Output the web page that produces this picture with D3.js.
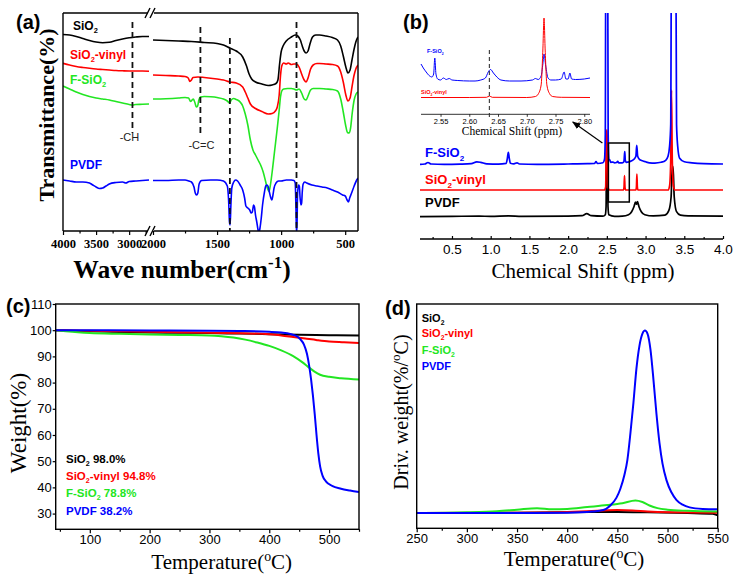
<!DOCTYPE html>
<html><head><meta charset="utf-8">
<script src="https://cdn.jsdelivr.net/npm/d3@7"></script>
<style>body{margin:0;background:#fff}svg{display:block}</style>
</head><body>
<svg id="c" width="744" height="581"></svg>
<script>
// ---------------- DATA ----------------
// (a) FTIR, transmittance (a.u.) vs wavenumber (cm-1); left segment 4000-2700, right 2000-400
const ftirNames = ["SiO2", "SiO2-vinyl", "F-SiO2", "PVDF"];
const ftirSiO2L = [[4000,196.5],[3900,196],[3800,194.5],[3700,192.5],[3600,190.5],[3500,189],[3400,188.3],[3300,188.7],[3200,190.5],[3100,192],[3000,193.2],[2900,194],[2800,194.5],[2700,194.5]];
const ftirSiO2R = [[2000,191],[1900,190.5],[1800,190],[1700,189.5],[1600,188.5],[1500,187.5],[1450,186],[1400,183],[1350,180],[1300,174],[1270,165],[1250,157],[1230,152],[1200,149],[1150,147],[1100,145.5],[1070,146],[1040,147.5],[1025,151],[1012,167],[1000,179],[985,185],[960,190],[920,194],[890,196],[870,195],[850,191],[835,185],[820,180],[805,178],[790,180],[775,187],[755,194],[730,196],[700,196],[650,195],[600,193.5],[560,191],[535,185],[515,175],[495,164],[478,158],[462,161],[447,171],[432,181],[417,189],[400,194]];
const ftirVinylL = [[4000,167.7],[3900,166],[3800,164.5],[3700,163.5],[3600,162.7],[3500,162],[3400,161.5],[3300,161],[3200,160.5],[3100,160.2],[3000,160],[2900,160],[2800,160],[2700,159.8]];
const ftirVinylR = [[2000,156],[1900,155.5],[1800,155],[1750,154.5],[1725,153],[1712,149.5],[1700,151],[1688,153.5],[1650,154],[1600,153.5],[1500,152],[1450,151],[1400,149],[1350,148],[1300,144],[1280,139],[1260,133],[1240,127],[1200,122.5],[1150,119.5],[1100,117],[1070,117.5],[1045,120],[1030,124],[1015,136],[1005,155],[995,165],[980,168],[960,167],[945,168],[920,166.5],[900,167],[880,167],[860,164],[840,157],[820,151],[805,149],[790,153],[770,162],[750,166],[720,167.5],[700,167.5],[650,167],[600,166.5],[560,165],[535,159],[515,149],[495,136],[478,130],[462,133],[447,144],[432,155],[417,162],[400,166]];
const ftirFL = [[4000,145],[3900,142],[3800,139],[3700,136.5],[3600,134.5],[3500,133],[3400,132],[3300,131],[3200,129.5],[3100,128],[3000,126.5],[2950,126],[2900,126.5],[2800,126.7],[2700,127]];
const ftirFR = [[2000,132],[1900,132.3],[1800,133],[1750,133.5],[1722,133],[1707,129.5],[1695,131],[1685,132],[1672,128],[1662,124],[1652,125],[1642,131],[1630,134],[1600,134.5],[1550,134.2],[1500,133.5],[1450,132],[1420,130],[1402,128],[1390,131],[1370,132.5],[1350,131.5],[1320,129],[1300,125],[1280,117],[1260,106],[1240,91],[1220,81],[1200,76],[1180,71],[1160,66],[1140,59],[1120,49],[1105,42],[1095,39.5],[1085,45],[1070,59],[1050,81],[1030,103],[1015,121],[1005,134],[995,140],[980,142],[950,142.5],[920,142.5],[900,142],[880,141],[860,142],[840,138],[820,132],[805,131],[790,135],[770,141],[750,142.5],[700,142.5],[650,142],[600,141.5],[560,140],[535,132],[515,119],[497,106],[482,98.5],[470,98],[458,103],[445,118],[430,131],[415,137],[400,139]];
const ftirPVDFL = [[4000,51],[3900,50],[3800,49],[3700,49],[3600,48],[3550,46],[3500,44],[3450,42.5],[3400,43],[3350,45],[3300,47],[3200,48.5],[3100,49],[3050,48],[3000,49.5],[2900,50],[2800,50.5],[2700,51]];
const ftirPVDFR = [[2000,50.5],[1900,50.5],[1800,51],[1750,51],[1720,50],[1700,49],[1680,44],[1670,38],[1660,36],[1650,38],[1640,47],[1620,50.5],[1550,51],[1500,51],[1450,50],[1420,45],[1410,31],[1403,9],[1398,6],[1392,26],[1385,43],[1370,49],[1355,51],[1340,50],[1320,46],[1300,41],[1285,33],[1275,25],[1260,23],[1245,21],[1235,18],[1225,19],[1215,26],[1208,24],[1200,16],[1190,9],[1180,1],[1172,-1],[1165,3],[1155,13],[1145,26],[1130,39],[1120,45],[1110,46],[1100,44],[1090,38],[1080,33],[1072,31],[1065,35],[1055,43],[1040,48],[1020,50],[1000,50],[960,51],[920,51],[900,50.5],[890,48],[884,21],[880,-2],[876,6],[872,36],[865,46],[858,45],[852,33],[845,26],[840,28],[835,39],[828,47],[815,49],[800,48],[760,46],[720,45],[680,44],[640,43],[600,41],[560,39],[520,36],[500,35],[485,31],[475,29],[465,33],[450,38],[430,45],[410,51],[400,53]];
const ftirTicksL = [4000, 3500, 3000];
const ftirMinorL = [3750, 3250, 2750];
const ftirTicksR = [2000, 1500, 1000, 500];
const ftirMinorR = [1750, 1250, 750];
const ftirBands = [{w:2950, side:"L", top:209, bot:98, label:"-CH"}, {w:1630, side:"R", top:204, bot:94, label:"-C=C"}, {w:1400, side:"R", top:193, bot:0, label:""}, {w:880, side:"R", top:209, bot:0, label:""}];

// (b) 1H NMR, intensity (a.u.) vs chemical shift (ppm)
const nmrOffsets = {PVDF:22.3, vinyl:49, F:74.7};
const nmrF = [[0.087,0],[0.15,0.3],[0.19,1.8],[0.23,0.3],[0.4,0],[0.6,0.2],[0.75,0.6],[0.82,2.5],[0.87,2],[0.95,0.4],[1.1,0.2],[1.2,1],[1.215,6],[1.228,12],[1.24,6],[1.255,1],[1.3,0.4],[1.34,1.5],[1.37,0.3],[1.6,0],[2.0,0.3],[2.25,0.6],[2.34,0.8],[2.36,2.7],[2.38,0.8],[2.45,1.5],[2.47,5],[2.48,30],[2.487,230],[2.51,230],[2.517,30],[2.527,5],[2.54,4],[2.55,2],[2.58,2.2],[2.6,1.5],[2.625,1.8],[2.64,3],[2.655,1.5],[2.7,1.5],[2.72,2.5],[2.728,10],[2.732,12.6],[2.738,4],[2.75,2],[2.77,2.2],[2.79,2.5],[2.82,3.5],[2.85,5],[2.875,8],[2.886,19],[2.898,8],[2.92,5],[2.96,3.5],[3.0,2.5],[3.05,1.5],[3.12,1.2],[3.2,2],[3.26,4],[3.29,8],[3.31,18],[3.325,40],[3.335,230],[3.39,230],[3.4,40],[3.415,18],[3.44,6],[3.5,2.5],[3.6,1.5],[3.75,0.7],[4.0,0.3]];
const nmrVinyl = [[0.087,0],[2.47,0],[2.485,3],[2.495,60],[2.505,60],[2.515,3],[2.53,0],[2.715,0],[2.722,3],[2.728,14.3],[2.734,3],[2.741,0],[2.875,0],[2.882,3],[2.888,16],[2.894,3],[2.901,0],[3.29,0],[3.31,4],[3.325,30],[3.335,100],[3.345,30],[3.36,4],[3.38,0],[4.0,0]];
const nmrPVDF = [[0.087,0],[0.5,0.3],[0.85,0.6],[1.0,0.3],[1.23,0.9],[1.4,0.3],[2.0,0.5],[2.18,1],[2.24,3],[2.3,1],[2.45,0.5],[2.48,2],[2.49,10],[2.497,75],[2.507,75],[2.515,10],[2.525,2],[2.6,0.4],[2.7,0.6],[2.78,2],[2.82,5],[2.85,10],[2.87,14.5],[2.883,12.5],[2.895,15],[2.915,10],[2.945,5],[2.99,2],[3.1,0.8],[3.25,1.5],[3.3,6],[3.33,20],[3.345,50],[3.355,50],[3.37,20],[3.4,5],[3.45,1.5],[3.55,0.8],[4.0,0.5]];
const nmrTicks = [0.5,1.0,1.5,2.0,2.5,3.0,3.5,4.0];
const nmrMinor = [0.25,0.75,1.25,1.75,2.25,2.75,3.25,3.75];
const nmrBox = {ppm:[2.52, 2.79], y:[37, 96]};
// inset
const insetF = [[2.516,50],[2.52,46],[2.525,42],[2.53,38.5],[2.535,37],[2.538,40],[2.54,56],[2.542,40],[2.545,35],[2.55,34],[2.555,36],[2.56,34.5],[2.565,35.5],[2.57,34],[2.58,33.5],[2.6,33],[2.61,33],[2.62,34],[2.628,36],[2.633,42],[2.637,44.5],[2.642,41],[2.648,37],[2.655,34],[2.67,33],[2.69,33],[2.71,34],[2.715,35.5],[2.72,34.5],[2.725,38],[2.728,50],[2.73,60],[2.733,48],[2.737,36],[2.742,34],[2.75,34],[2.76,35],[2.765,42],[2.768,35],[2.772,35],[2.775,41],[2.778,35],[2.785,34.5],[2.8,35],[2.81,36]];
const insetVinyl = [[2.516,16.5],[2.6,16.5],[2.63,16.7],[2.635,18],[2.64,16.7],[2.7,16.5],[2.715,17.5],[2.72,20],[2.725,29],[2.728,64],[2.73,96],[2.732,64],[2.735,29],[2.74,20],[2.745,17.5],[2.76,16.7],[2.81,16.5]];
const insetTicks = [2.55,2.60,2.65,2.70,2.75,2.80];
const insetMark = 2.635;

// (c) TGA weight (%) vs temperature (°C)
const tgaSiO2 = [[43,100],[60,99.9],[100,99.6],[150,99.3],[200,99.1],[250,99.0],[300,98.9],[350,98.7],[400,98.5],[450,98.3],[500,98.1],[550,98.0]];
const tgaVinyl = [[43,100],[100,99.75],[150,99.6],[200,99.4],[250,99.2],[300,99.0],[350,98.8],[400,98.5],[420,98.0],[440,97.4],[460,96.8],[480,96.2],[500,95.7],[525,95.4],[550,95.1]];
const tgaF = [[43,100],[60,99.6],[80,99.2],[100,98.9],[150,98.6],[200,98.4],[250,98.2],[300,98.0],[320,97.7],[340,97.2],[360,96.4],[380,95.3],[400,94.0],[420,92.3],[440,90.1],[455,87.8],[465,86.0],[475,84.3],[485,83.0],[500,82.2],[520,81.7],[550,81.2]];
const tgaPVDF = [[43,100],[100,100],[200,99.9],[300,99.8],[350,99.7],[400,99.4],[420,99.1],[435,98.6],[445,97.8],[452,96.5],[458,94.5],[463,91],[467,86],[470,81],[473,75],[476,68],[479,60],[482,53],[485,48],[489,44.5],[495,42.2],[505,40.6],[520,39.5],[535,38.8],[550,38.2]];
const tgaResidue = ["98.0%", "94.8%", "78.8%", "38.2%"];
const tgaYTicks = [30,40,50,60,70,80,90,100,110];
const tgaXTicks = [100,200,300,400,500];
const tgaXMinor = [50,150,250,350,450,550];

// (d) DTG (%/°C) vs temperature (°C)
const dtgSiO2 = [[250,0],[300,0],[350,0.005],[400,0.01],[450,0.015],[480,0.01],[520,0],[545,-0.01],[550,-0.03]];
const dtgVinyl = [[250,0],[350,0.005],[400,0.015],[430,0.03],[450,0.04],[465,0.035],[480,0.02],[500,0.01],[550,0.005]];
const dtgF = [[250,0],[300,0.01],[330,0.025],[350,0.045],[370,0.065],[385,0.05],[400,0.055],[420,0.08],[440,0.105],[455,0.13],[468,0.165],[475,0.145],[482,0.1],[490,0.065],[500,0.045],[520,0.03],[550,0.02]];
const dtgPVDF = [[250,0],[350,0],[400,0.005],[425,0.02],[436,0.04],[443,0.1],[449,0.2],[453,0.32],[457,0.5],[460,0.7],[463,1.05],[466,1.45],[469,1.9],[472,2.2],[475,2.36],[477.5,2.4],[480,2.36],[483,2.15],[486,1.75],[489,1.3],[492,0.92],[495,0.65],[499,0.43],[504,0.27],[509,0.17],[515,0.11],[522,0.075],[535,0.055],[550,0.05]];
const dtgXTicks = [250,300,350,400,450,500,550];
const dtgXMinor = [275,325,375,425,475,525];

// ---------------- STYLE ----------------
const COL = {SiO2:"#000000", vinyl:"#ff0000", F:"#22e622", PVDF:"#0000ff"};
const SANS = "'Liberation Sans', Arial, sans-serif";
const SERIF = "'Liberation Serif', 'Times New Roman', serif";
const svg = d3.select("#c");
const defs = svg.append("defs");

function rich(g, x, y, parts, fs, attrs) {
  const t = g.append("text").attr("x", x).attr("y", y).attr("font-size", fs);
  Object.entries(attrs || {}).forEach(([k, v]) => t.attr(k, v));
  let shift = 0;
  parts.forEach(s => {
    let target = 0, size = null, txt = s;
    if (s[0] === "_") { target = fs * 0.28; size = fs * 0.62; txt = s.slice(1); }
    else if (s[0] === "^") { target = -fs * 0.38; size = fs * 0.66; txt = s.slice(1); }
    const ts = t.append("tspan").text(txt).attr("dy", target - shift);
    if (size) ts.attr("font-size", size);
    shift = target;
  });
  return t;
}
function styleAxis(g, font, size, weight) {
  g.attr("font-family", font).attr("font-size", size).attr("font-weight", weight || "normal");
  g.select(".domain").remove();
  g.selectAll(".tick line").attr("stroke", "#000").attr("stroke-width", 1.2);
  g.selectAll(".tick text").attr("fill", "#000");
}
function clip(id, x, y, w, h) {
  defs.append("clipPath").attr("id", id).append("rect").attr("x", x).attr("y", y).attr("width", w).attr("height", h);
}
const lbl = (s, x, y) => svg.append("text").attr("x", x).attr("y", y).attr("font-family", SANS).attr("font-weight", "bold").attr("font-size", 20).text(s);

// ================= (a) FTIR =================
{
  const xL = d3.scaleLinear().domain([4000, 2700]).range([63, 149]);
  const xR = d3.scaleLinear().domain([2000, 400]).range([153, 358]);
  const y = d3.scaleLinear().domain([0, 218]).range([231, 13]);
  const g = svg.append("g");
  clip("clipA", 63, 13, 295, 218);
  const plot = g.append("g").attr("clip-path", "url(#clipA)");
  const series = [[ftirSiO2L, ftirSiO2R, COL.SiO2], [ftirVinylL, ftirVinylR, COL.vinyl], [ftirFL, ftirFR, COL.F], [ftirPVDFL, ftirPVDFR, COL.PVDF]];
  series.forEach(([L, R, c]) => {
    [[L, xL], [R, xR]].forEach(([d, sx]) => {
      plot.append("path").attr("d", d3.line().x(p => sx(p[0])).y(p => y(p[1])).curve(d3.curveMonotoneX)(d))
        .attr("fill", "none").attr("stroke", c).attr("stroke-width", 1.6);
    });
  });
  ftirBands.forEach(b => {
    const sx = b.side === "L" ? xL : xR;
    g.append("line").attr("x1", sx(b.w)).attr("x2", sx(b.w)).attr("y1", y(b.top)).attr("y2", y(b.bot))
      .attr("stroke", "#111").attr("stroke-width", 1.8).attr("stroke-dasharray", "6,4");
    if (b.label) g.append("text").attr("x", sx(b.w) + (b.side === "L" ? -3 : 1)).attr("y", y(b.bot) + (b.side === "L" ? 8 : 12))
      .attr("text-anchor", "middle").attr("font-family", SANS).attr("font-size", 11).attr("fill", "#222").text(b.label);
  });
  const fr = g.append("g").attr("stroke", "#000").attr("stroke-width", 1.4).attr("fill", "none");
  fr.append("line").attr("x1", 63).attr("x2", 63).attr("y1", 13).attr("y2", 231);
  fr.append("line").attr("x1", 358).attr("x2", 358).attr("y1", 13).attr("y2", 231);
  [13, 231].forEach(yy => {
    fr.append("line").attr("x1", 63).attr("x2", 148).attr("y1", yy).attr("y2", yy);
    fr.append("line").attr("x1", 154).attr("x2", 358).attr("y1", yy).attr("y2", yy);
    fr.append("line").attr("x1", 145).attr("x2", 150).attr("y1", yy + 5).attr("y2", yy - 5);
    fr.append("line").attr("x1", 150).attr("x2", 155).attr("y1", yy + 5).attr("y2", yy - 5);
  });
  const mk = (sc, ticks, size, labels) => {
    const a = g.append("g").attr("transform", "translate(0,231)")
      .call(d3.axisBottom(sc).tickValues(ticks).tickSize(size).tickPadding(4).tickFormat(labels ? d3.format("d") : ""));
    styleAxis(a, SERIF, 12.5, "bold");
  };
  mk(xL, ftirTicksL, 4, true); mk(xL, ftirMinorL, 2.5, false);
  mk(xR, ftirTicksR, 4, true); mk(xR, ftirMinorR, 2.5, false);
  const lab = [[["SiO", "_2"], 73, 29.5, COL.SiO2], [["SiO", "_2", "-vinyl"], 70, 59, COL.vinyl], [["F-SiO", "_2"], 70, 84, COL.F], [["PVDF"], 70, 168.5, COL.PVDF]];
  lab.forEach(([p, x, yy, c]) => rich(g, x, yy, p, 12, {"font-family": SANS, "font-weight": "bold", "fill": c}));
  rich(g, 182, 278, ["Wave number(cm", "^-1", ")"], 25.5, {"font-family": SERIF, "font-weight": "bold", "text-anchor": "middle"});
  g.append("text").attr("transform", "translate(54,115) rotate(-90)").attr("text-anchor", "middle")
    .attr("font-family", SERIF).attr("font-weight", "bold").attr("font-size", 22).text("Transmittance(%)");
  lbl("(a)", 16, 29);
}

// ================= (b) NMR =================
{
  const x = d3.scaleLinear().domain([0.087, 4.0]).range([420, 723]);
  const y = d3.scaleLinear().domain([0, 226]).range([239, 13]);
  const g = svg.append("g");
  clip("clipB", 415, 13, 315, 226);
  const plot = g.append("g").attr("clip-path", "url(#clipB)");
  const traces = [[nmrPVDF, nmrOffsets.PVDF, COL.SiO2], [nmrVinyl, nmrOffsets.vinyl, COL.vinyl], [nmrF, nmrOffsets.F, COL.PVDF]];
  traces.forEach(([d, off, c]) => {
    plot.append("path").attr("d", d3.line().x(p => x(p[0])).y(p => y(p[1] + off)).curve(d3.curveMonotoneX)(d))
      .attr("fill", "none").attr("stroke", c).attr("stroke-width", 1.7);
  });
  g.append("line").attr("x1", 420).attr("x2", 723).attr("y1", 239).attr("y2", 239).attr("stroke", "#000").attr("stroke-width", 1.4);
  const a1 = g.append("g").attr("transform", "translate(0,239)").call(d3.axisBottom(x).tickValues(nmrTicks).tickSize(-3).tickPadding(5).tickFormat(d3.format(".1f")));
  styleAxis(a1, SANS, 13.5);
  const a2 = g.append("g").attr("transform", "translate(0,239)").call(d3.axisBottom(x).tickValues(nmrMinor).tickSize(-2).tickFormat(""));
  styleAxis(a2, SANS, 13);
  g.append("text").attr("x", 583).attr("y", 278).attr("text-anchor", "middle").attr("font-family", SERIF).attr("font-size", 21).text("Chemical Shift (ppm)");
  [[["F-SiO", "_2"], 425, 157, COL.PVDF], [["SiO", "_2", "-vinyl"], 425, 184, COL.vinyl], [["PVDF"], 425, 207, COL.SiO2]]
    .forEach(([p, xx, yy, c]) => rich(g, xx, yy, p, 13, {"font-family": SANS, "font-weight": "bold", "fill": c}));
  g.append("rect").attr("x", x(nmrBox.ppm[0])).attr("y", y(nmrBox.y[1])).attr("width", x(nmrBox.ppm[1]) - x(nmrBox.ppm[0]))
    .attr("height", y(nmrBox.y[0]) - y(nmrBox.y[1])).attr("fill", "none").attr("stroke", "#000").attr("stroke-width", 1.5);

  const xi = d3.scaleLinear().domain([2.516, 2.81]).range([421, 590]);
  const yi = d3.scaleLinear().domain([0, 100]).range([114, 14]);
  [[insetF, COL.PVDF], [insetVinyl, COL.vinyl]].forEach(([d, c]) => {
    g.append("path").attr("d", d3.line().x(p => xi(p[0])).y(p => yi(p[1])).curve(d3.curveMonotoneX)(d))
      .attr("fill", "none").attr("stroke", c).attr("stroke-width", 1);
  });
  g.append("line").attr("x1", xi(insetMark)).attr("x2", xi(insetMark)).attr("y1", 50).attr("y2", 120)
    .attr("stroke", "#444").attr("stroke-width", 1.2).attr("stroke-dasharray", "4,3");
  g.append("line").attr("x1", 421).attr("x2", 590).attr("y1", 114.3).attr("y2", 114.3).attr("stroke", "#333").attr("stroke-width", 1);
  const ai = g.append("g").attr("transform", "translate(0,114.3)").call(d3.axisBottom(xi).tickValues(insetTicks).tickSize(2.5).tickPadding(2).tickFormat(d3.format(".2f")));
  styleAxis(ai, SANS, 7.5);
  ai.selectAll(".tick line").attr("stroke-width", 0.8);
  g.append("text").attr("x", 512).attr("y", 135).attr("text-anchor", "middle").attr("font-family", SERIF).attr("font-size", 11.5).text("Chemical Shift (ppm)");
  rich(g, 427, 53, ["F-SiO", "_2"], 5.5, {"font-family": SANS, "font-weight": "bold", "fill": COL.PVDF});
  rich(g, 421, 94, ["SiO", "_2", "-vinyl"], 5.5, {"font-family": SANS, "font-weight": "bold", "fill": COL.vinyl});
  defs.append("marker").attr("id", "arr").attr("viewBox", "0 0 10 10").attr("refX", 9).attr("refY", 5)
    .attr("markerWidth", 7).attr("markerHeight", 7).attr("orient", "auto")
    .append("path").attr("d", "M0,1 L10,5 L0,9 z").attr("fill", "#000");
  g.append("line").attr("x1", x(nmrBox.ppm[0]) - 6).attr("y1", y(nmrBox.y[1])).attr("x2", xi(2.78)).attr("y2", yi(0) + 8)
    .attr("stroke", "#000").attr("stroke-width", 1.2).attr("marker-end", "url(#arr)");
  lbl("(b)", 403, 29);
}

// ================= (c) TGA =================
{
  const x = d3.scaleLinear().domain([43, 550]).range([55.7, 359]);
  const y = d3.scaleLinear().domain([24, 110]).range([529.3, 304]);
  const g = svg.append("g");
  clip("clipC", 55.7, 304, 303.3, 225.3);
  const plot = g.append("g").attr("clip-path", "url(#clipC)");
  [[tgaSiO2, COL.SiO2], [tgaVinyl, COL.vinyl], [tgaF, COL.F], [tgaPVDF, COL.PVDF]].forEach(([d, c]) => {
    plot.append("path").attr("d", d3.line().x(p => x(p[0])).y(p => y(p[1])).curve(d3.curveMonotoneX)(d))
      .attr("fill", "none").attr("stroke", c).attr("stroke-width", 2);
  });
  g.append("rect").attr("x", 55.7).attr("y", 304).attr("width", 303.3).attr("height", 225.3).attr("fill", "none").attr("stroke", "#000").attr("stroke-width", 1.4);
  const ay = g.append("g").attr("transform", "translate(55.7,0)").call(d3.axisLeft(y).tickValues(tgaYTicks).tickSize(3).tickPadding(1).tickFormat(d3.format("d")));
  styleAxis(ay, SANS, 13);
  const ax = g.append("g").attr("transform", "translate(0,529.3)").call(d3.axisBottom(x).tickValues(tgaXTicks).tickSize(4).tickPadding(1).tickFormat(d3.format("d")));
  styleAxis(ax, SANS, 13);
  const am = g.append("g").attr("transform", "translate(0,529.3)").call(d3.axisBottom(x).tickValues(tgaXMinor).tickSize(2.5).tickFormat(""));
  styleAxis(am, SANS, 13);
  const labs = [[["SiO", "_2", " " + tgaResidue[0]], 463, COL.SiO2], [["SiO", "_2", "-vinyl " + tgaResidue[1]], 480, COL.vinyl],
                [["F-SiO", "_2", " " + tgaResidue[2]], 496.5, COL.F], [["PVDF " + tgaResidue[3]], 514.5, COL.PVDF]];
  labs.forEach(([p, yy, c]) => rich(g, 66, yy, p, 11.5, {"font-family": SANS, "font-weight": "bold", "fill": c}));
  rich(g, 221.7, 569, ["Temperature(", "^o", "C)"], 21, {"font-family": SERIF, "text-anchor": "middle"});
  g.append("text").attr("transform", "translate(26,423) rotate(-90)").attr("text-anchor", "middle")
    .attr("font-family", SERIF).attr("font-size", 23).text("Weight(%)");
  lbl("(c)", 6, 313);
}

// ================= (d) DTG =================
{
  const x = d3.scaleLinear().domain([250, 550]).range([416.7, 717.7]);
  const y = d3.scaleLinear().domain([-0.2, 2.75]).range([528.3, 304]);
  const g = svg.append("g");
  clip("clipD", 416.7, 304, 301, 224.3);
  const plot = g.append("g").attr("clip-path", "url(#clipD)");
  [[dtgSiO2, COL.SiO2], [dtgVinyl, COL.vinyl], [dtgF, COL.F], [dtgPVDF, COL.PVDF]].forEach(([d, c]) => {
    plot.append("path").attr("d", d3.line().x(p => x(p[0])).y(p => y(p[1])).curve(d3.curveMonotoneX)(d))
      .attr("fill", "none").attr("stroke", c).attr("stroke-width", 2);
  });
  g.append("rect").attr("x", 416.7).attr("y", 304).attr("width", 301).attr("height", 224.3).attr("fill", "none").attr("stroke", "#000").attr("stroke-width", 1.4);
  const ax = g.append("g").attr("transform", "translate(0,528.3)").call(d3.axisBottom(x).tickValues(dtgXTicks).tickSize(4).tickPadding(1).tickFormat(d3.format("d")));
  styleAxis(ax, SANS, 13);
  const am = g.append("g").attr("transform", "translate(0,528.3)").call(d3.axisBottom(x).tickValues(dtgXMinor).tickSize(2.5).tickFormat(""));
  styleAxis(am, SANS, 13);
  const labs = [[["SiO", "_2"], 321.5, COL.SiO2], [["SiO", "_2", "-vinyl"], 337, COL.vinyl], [["F-SiO", "_2"], 354, COL.F], [["PVDF"], 370, COL.PVDF]];
  labs.forEach(([p, yy, c]) => rich(g, 421.7, yy, p, 11, {"font-family": SANS, "font-weight": "bold", "fill": c}));
  rich(g, 574, 566, ["Temperature(", "^o", "C)"], 21, {"font-family": SERIF, "text-anchor": "middle"});
  rich(g, 0, 0, ["Driv. weight(%/", "^o", "C)"], 20, {"font-family": SERIF, "text-anchor": "middle", "transform": "translate(408,412) rotate(-90)"});
  lbl("(d)", 385, 315);
}
</script>
</body></html>
